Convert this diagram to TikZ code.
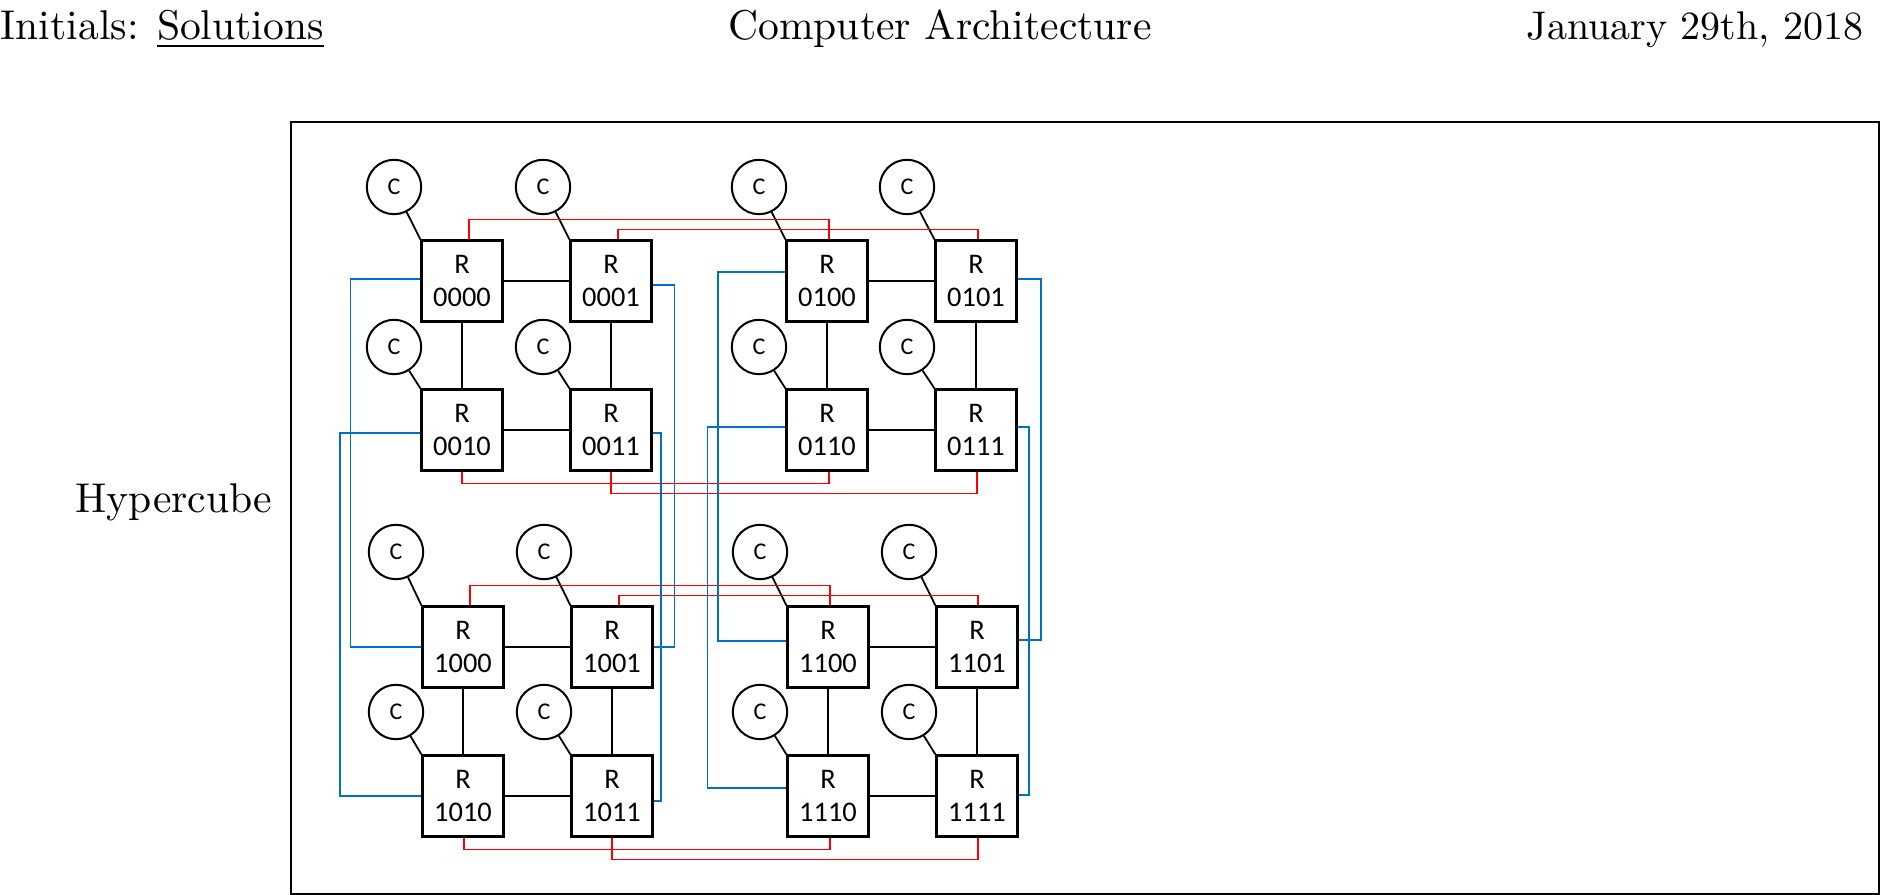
\documentclass[tikz,border=0pt]{standalone}
\usepackage{fontspec}
\newfontfamily\calibri{Carlito}
\definecolor{linkred}{RGB}{255,0,0}
\definecolor{linkblue}{RGB}{0,112,192}
\tikzset{
  router/.style={draw, line width=0.55pt, minimum size=20.25pt, inner sep=0pt, align=center,
    font=\calibri\fontsize{7.1}{8.4}\selectfont},
  cpu/.style={circle, draw, line width=0.5pt, minimum size=13.6pt, inner sep=0pt,
    font=\calibri\fontsize{6}{7}\selectfont},
  mesh/.style={line width=0.45pt},
  ringlink/.style={linkred, line width=0.4pt},
  cubelink/.style={linkblue, line width=0.4pt},
  header/.style={inner sep=0pt, font=\fontsize{10.4}{12.5}\selectfont},
}
\begin{document}
\begin{tikzpicture}[x=0.25pt, y=-0.25pt]
    \useasboundingbox (0,0) rectangle (1880,895);
    % header
    \node[header, anchor=base west] (initials) at (0, 39.5) {Initials: \underline{Solutions}};
    \node[header, anchor=base] (course) at (940, 39.5) {Computer Architecture};
    \node[inner sep=0pt, anchor=base east] (date) at (1864, 39.5) {January 29th, 2018};
    \node[header, anchor=base east] (topo) at (273, 512.7) {Hypercube};
    \draw[line width=0.5pt] (291, 122) rectangle (1878.5, 894);

    % routers
    \node[router] (r0000) at (462, 281) {R\\0000};
    \node[router] (r0001) at (611, 281) {R\\0001};
    \node[router] (r0010) at (462, 430) {R\\0010};
    \node[router] (r0011) at (611, 430) {R\\0011};
    \node[router] (r0100) at (827, 281) {R\\0100};
    \node[router] (r0101) at (976, 281) {R\\0101};
    \node[router] (r0110) at (827, 430) {R\\0110};
    \node[router] (r0111) at (976, 430) {R\\0111};
    \node[router] (r1000) at (463, 647) {R\\1000};
    \node[router] (r1001) at (612, 647) {R\\1001};
    \node[router] (r1010) at (463, 796) {R\\1010};
    \node[router] (r1011) at (612, 796) {R\\1011};
    \node[router] (r1100) at (828, 647) {R\\1100};
    \node[router] (r1101) at (977, 647) {R\\1101};
    \node[router] (r1110) at (828, 796) {R\\1110};
    \node[router] (r1111) at (977, 796) {R\\1111};

    % cores
    \node[cpu] (c0000) at (394, 187) {C};
    \node[cpu] (c0001) at (543, 187) {C};
    \node[cpu] (c0010) at (394, 347) {C};
    \node[cpu] (c0011) at (543, 347) {C};
    \node[cpu] (c0100) at (759, 187) {C};
    \node[cpu] (c0101) at (907, 187) {C};
    \node[cpu] (c0110) at (759, 347) {C};
    \node[cpu] (c0111) at (907, 347) {C};
    \node[cpu] (c1000) at (396, 552) {C};
    \node[cpu] (c1001) at (544, 552) {C};
    \node[cpu] (c1010) at (396, 712) {C};
    \node[cpu] (c1011) at (544, 712) {C};
    \node[cpu] (c1100) at (760, 552) {C};
    \node[cpu] (c1101) at (909, 552) {C};
    \node[cpu] (c1110) at (760, 712) {C};
    \node[cpu] (c1111) at (909, 712) {C};

    \draw[mesh] (c0000) -- (r0000.north west);
    \draw[mesh] (c0001) -- (r0001.north west);
    \draw[mesh] (c0010) -- (r0010.north west);
    \draw[mesh] (c0011) -- (r0011.north west);
    \draw[mesh] (c0100) -- (r0100.north west);
    \draw[mesh] (c0101) -- (r0101.north west);
    \draw[mesh] (c0110) -- (r0110.north west);
    \draw[mesh] (c0111) -- (r0111.north west);
    \draw[mesh] (c1000) -- (r1000.north west);
    \draw[mesh] (c1001) -- (r1001.north west);
    \draw[mesh] (c1010) -- (r1010.north west);
    \draw[mesh] (c1011) -- (r1011.north west);
    \draw[mesh] (c1100) -- (r1100.north west);
    \draw[mesh] (c1101) -- (r1101.north west);
    \draw[mesh] (c1110) -- (r1110.north west);
    \draw[mesh] (c1111) -- (r1111.north west);

    % dimensions 0 and 1
    \draw[mesh] (r0000) -- (r0001);
    \draw[mesh] (r0010) -- (r0011);
    \draw[mesh] (r0000) -- (r0010);
    \draw[mesh] (r0001) -- (r0011);
    \draw[mesh] (r0100) -- (r0101);
    \draw[mesh] (r0110) -- (r0111);
    \draw[mesh] (r0100) -- (r0110);
    \draw[mesh] (r0101) -- (r0111);
    \draw[mesh] (r1000) -- (r1001);
    \draw[mesh] (r1010) -- (r1011);
    \draw[mesh] (r1000) -- (r1010);
    \draw[mesh] (r1001) -- (r1011);
    \draw[mesh] (r1100) -- (r1101);
    \draw[mesh] (r1110) -- (r1111);
    \draw[mesh] (r1100) -- (r1110);
    \draw[mesh] (r1101) -- (r1111);

    % dimension 2
    \draw[ringlink] ([xshift=1.75pt]r0000.north) -- ++(0, -20) -| ([xshift=0.5pt]r0100.north);
    \draw[ringlink] ([xshift=1.75pt]r0001.north) -- ++(0, -10) -| ([xshift=0.5pt]r0101.north);
    \draw[ringlink] (r0010.south) -- ++(0, 12) -| ([xshift=0.5pt]r0110.south);
    \draw[ringlink] (r0011.south) -- ++(0, 22) -| ([xshift=0.25pt]r0111.south);
    \draw[ringlink] ([xshift=1.75pt]r1000.north) -- ++(0, -20) -| ([xshift=0.5pt]r1100.north);
    \draw[ringlink] ([xshift=1.75pt]r1001.north) -- ++(0, -10) -| ([xshift=0.25pt]r1101.north);
    \draw[ringlink] ([xshift=0.25pt]r1010.south) -- ++(0, 12) -| ([xshift=0.5pt]r1110.south);
    \draw[ringlink] (r1011.south) -- ++(0, 22) -| ([xshift=0.25pt]r1111.south);

    % dimension 3
    \draw[cubelink] ([yshift=0.5pt]r0000.west) -- ++(-70, 0) |- (r1000.west);
    \draw[cubelink] ([yshift=-0.75pt]r0010.west) -- ++(-80.5, 0) |- (r1010.west);
    \draw[cubelink] ([yshift=-1pt]r0001.east) -- ++(22, 0) |- (r1001.east);
    \draw[cubelink] ([yshift=-0.75pt]r0011.east) -- ++(8.5, 0) |- ([yshift=-1.25pt]r1011.east);
    \draw[cubelink] ([yshift=2.25pt]r0100.west) -- ++(-67.5, 0) |- ([yshift=1.5pt]r1100.west);
    \draw[cubelink] ([yshift=0.75pt]r0110.west) -- ++(-78, 0) |- ([yshift=2pt]r1110.west);
    \draw[cubelink] ([yshift=0.5pt]r0101.east) -- ++(23.5, 0) |- ([yshift=1.75pt]r1101.east);
    \draw[cubelink] ([yshift=0.75pt]r0111.east) -- ++(11.5, 0) |- ([yshift=0.25pt]r1111.east);
\end{tikzpicture}
\end{document}
